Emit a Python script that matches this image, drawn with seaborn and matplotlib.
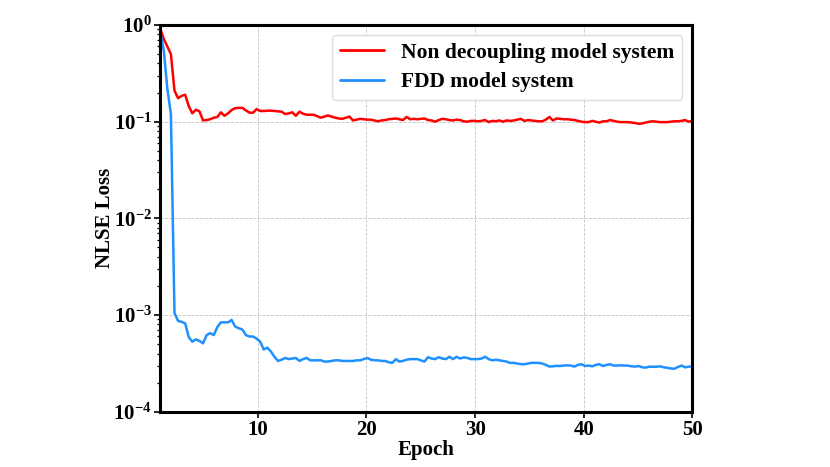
import numpy as np
import pandas as pd
import matplotlib
matplotlib.use("Agg")
import matplotlib.pyplot as plt
import seaborn as sns

# ---------------- data ----------------
series_names = ["Non decoupling model system", "FDD model system"]
series_colors = ["#ff0000", "#1e90ff"]

nondecoupling_loss = [
    0.92, 0.72, 0.60, 0.50, 0.21, 0.175, 0.185, 0.19, 0.145, 0.122,
    0.133, 0.128, 0.103, 0.104, 0.106, 0.110, 0.112, 0.125, 0.115, 0.122,
    0.132, 0.138, 0.139, 0.139, 0.131, 0.124, 0.124, 0.135, 0.129, 0.129,
    0.130, 0.130, 0.129, 0.128, 0.127, 0.120, 0.122, 0.125, 0.115, 0.127,
    0.121, 0.118, 0.118, 0.118, 0.114, 0.110, 0.113, 0.116, 0.113, 0.110,
    0.108, 0.107, 0.110, 0.113, 0.103, 0.105, 0.107, 0.106, 0.105, 0.105,
    0.103, 0.101, 0.103, 0.104, 0.106, 0.107, 0.108, 0.106, 0.104, 0.112,
    0.106, 0.107, 0.106, 0.107, 0.108, 0.104, 0.103, 0.100, 0.104, 0.107,
    0.106, 0.104, 0.103, 0.105, 0.104, 0.101, 0.100, 0.102, 0.102, 0.101,
    0.102, 0.104, 0.099, 0.102, 0.101, 0.103, 0.100, 0.103, 0.102, 0.103,
    0.105, 0.107, 0.102, 0.104, 0.103, 0.102, 0.101, 0.101, 0.105, 0.112,
    0.103, 0.108, 0.107, 0.106, 0.106, 0.105, 0.104, 0.102, 0.100, 0.099,
    0.099, 0.102, 0.100, 0.098, 0.101, 0.101, 0.104, 0.102, 0.100, 0.099,
    0.099, 0.099, 0.098, 0.097, 0.095, 0.096, 0.098, 0.100, 0.101, 0.100,
    0.099, 0.099, 0.099, 0.100, 0.101, 0.101, 0.102, 0.104, 0.100, 0.102,
]

fdd_loss = [
    0.85, 0.55, 0.22, 0.12, 1.05e-3, 8.7e-4, 8.5e-4, 8.2e-4, 5.9e-4, 5.3e-4,
    5.6e-4, 5.4e-4, 5.1e-4, 6.2e-4, 6.5e-4, 6.2e-4, 7.5e-4, 8.4e-4, 8.4e-4, 8.4e-4,
    8.9e-4, 7.6e-4, 7.3e-4, 7.1e-4, 6.2e-4, 6.0e-4, 6.0e-4, 5.7e-4, 5.3e-4, 4.4e-4,
    4.6e-4, 4.2e-4, 3.7e-4, 3.35e-4, 3.45e-4, 3.6e-4, 3.5e-4, 3.55e-4, 3.6e-4, 3.35e-4,
    3.5e-4, 3.6e-4, 3.4e-4, 3.4e-4, 3.4e-4, 3.4e-4, 3.3e-4, 3.3e-4, 3.35e-4, 3.4e-4,
    3.4e-4, 3.35e-4, 3.35e-4, 3.35e-4, 3.35e-4, 3.4e-4, 3.4e-4, 3.5e-4, 3.6e-4, 3.45e-4,
    3.4e-4, 3.4e-4, 3.35e-4, 3.35e-4, 3.25e-4, 3.2e-4, 3.5e-4, 3.3e-4, 3.35e-4, 3.45e-4,
    3.5e-4, 3.5e-4, 3.5e-4, 3.4e-4, 3.3e-4, 3.66e-4, 3.55e-4, 3.5e-4, 3.66e-4, 3.55e-4,
    3.5e-4, 3.7e-4, 3.5e-4, 3.7e-4, 3.55e-4, 3.65e-4, 3.6e-4, 3.5e-4, 3.5e-4, 3.5e-4,
    3.55e-4, 3.7e-4, 3.5e-4, 3.4e-4, 3.45e-4, 3.4e-4, 3.35e-4, 3.3e-4, 3.2e-4, 3.2e-4,
    3.15e-4, 3.1e-4, 3.1e-4, 3.15e-4, 3.2e-4, 3.2e-4, 3.2e-4, 3.15e-4, 3.05e-4, 2.93e-4,
    2.95e-4, 2.98e-4, 2.97e-4, 3.0e-4, 3.02e-4, 3.0e-4, 2.93e-4, 3.05e-4, 3.1e-4, 2.97e-4,
    3.0e-4, 2.95e-4, 3.05e-4, 3.1e-4, 2.97e-4, 3.05e-4, 3.1e-4, 3.0e-4, 3.0e-4, 3.02e-4,
    3.0e-4, 3.0e-4, 2.95e-4, 2.93e-4, 2.97e-4, 2.88e-4, 2.86e-4, 2.92e-4, 2.92e-4, 2.92e-4,
    2.95e-4, 2.88e-4, 2.85e-4, 2.8e-4, 2.78e-4, 2.9e-4, 3.0e-4, 2.88e-4, 2.92e-4, 2.95e-4,
]

epoch_start, epoch_end = 1, 50
x_ticks = [10, 20, 30, 40, 50]
y_ticks = [1e-4, 1e-3, 1e-2, 1e-1, 1e0]
y_tick_labels = [r"$\mathbf{10^{-4}}$", r"$\mathbf{10^{-3}}$", r"$\mathbf{10^{-2}}$",
                 r"$\mathbf{10^{-1}}$", r"$\mathbf{10^{0}}$"]

epochs = np.linspace(epoch_start, epoch_end, len(nondecoupling_loss))
df = pd.concat([
    pd.DataFrame({"Epoch": epochs, "Loss": nondecoupling_loss, "Model": series_names[0]}),
    pd.DataFrame({"Epoch": epochs, "Loss": fdd_loss, "Model": series_names[1]}),
], ignore_index=True)

# ---------------- style ----------------
sns.set_theme(style="ticks")
plt.rcParams["font.family"] = ["Liberation Serif", "DejaVu Serif"]
plt.rcParams["font.weight"] = "bold"
plt.rcParams["text.color"] = "black"
plt.rcParams["axes.labelcolor"] = "black"
plt.rcParams["xtick.color"] = "black"
plt.rcParams["ytick.color"] = "black"
plt.rcParams["mathtext.fontset"] = "custom"
plt.rcParams["mathtext.rm"] = "Liberation Serif"
plt.rcParams["mathtext.bf"] = "Liberation Serif:bold"
plt.rcParams["mathtext.it"] = "Liberation Serif:italic"

fig = plt.figure(figsize=(8.3, 4.67), dpi=100)
ax = fig.add_axes([0.193, 0.1184, 0.641, 0.828])

sns.lineplot(data=df, x="Epoch", y="Loss", hue="Model", palette=series_colors,
             hue_order=series_names, linewidth=1.8, ax=ax, legend=True)

ax.set_yscale("log")
ax.set_xlim(epoch_start, epoch_end)
ax.set_ylim(1e-4, 1e0)
ax.set_xticks(x_ticks)
ax.set_xticklabels([str(t) for t in x_ticks], fontsize=15, fontweight="bold", color="black")
ax.set_yticks(y_ticks)
ax.set_yticklabels(y_tick_labels, fontsize=15, color="black")

ax.grid(True, which="major", linestyle="--", linewidth=0.6, color="#c4c4c4")
ax.set_xlabel("Epoch", fontsize=15, fontweight="bold", labelpad=0, color="black")
ax.set_ylabel("NLSE Loss", fontsize=15, fontweight="bold", labelpad=-1, color="black")

for s in ax.spines.values():
    s.set_linewidth(2.2)
    s.set_color("black")
ax.tick_params(axis="both", which="major", direction="out", length=4, width=1.2, colors="black", pad=2)
ax.tick_params(axis="y", which="minor", direction="out", length=2.5, width=0.9, colors="black")

leg = ax.legend(loc="upper right", fontsize=15.5, frameon=True, fancybox=True,
                framealpha=1.0, edgecolor="#dddddd", borderpad=0.35,
                handlelength=2.05, handletextpad=0.8, labelspacing=0.45,
                borderaxespad=0.0, bbox_to_anchor=(0.981, 0.974))
for t in leg.get_texts():
    t.set_fontweight("bold")
    t.set_color("black")
for l in leg.get_lines():
    l.set_linewidth(2.0)

fig.savefig("out.png", dpi=100)
